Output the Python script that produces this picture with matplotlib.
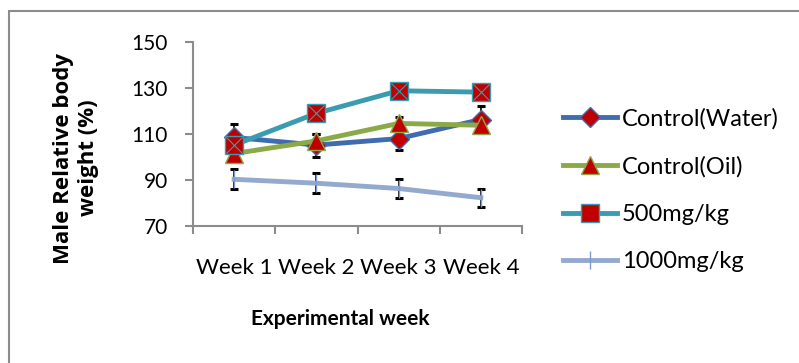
import matplotlib
matplotlib.use("Agg")
import matplotlib.pyplot as plt
from matplotlib.patches import Rectangle
import numpy as np

weeks = ["Week 1", "Week 2", "Week 3", "Week 4"]
water = [108.5, 105.2, 108.0, 116.3]
water_err = [6, 5, 5, 6]
oil = [101.5, 107.0, 114.6, 113.8]
oil_err = [3, 3, 3, 3]
mg500 = [105.2, 119.0, 128.8, 128.2]
mg500_err = [3, 3, 3, 3]
mg1000 = [90.3, 88.6, 86.3, 82.3]
mg1000_err = [4.4, 4.4, 4.2, 4.0]
labels = ["Control(Water)", "Control(Oil)", "500mg/kg", "1000mg/kg"]

FONT = "Lato"
plt.rcParams["font.family"] = [FONT, "DejaVu Sans"]

fig = plt.figure(figsize=(7.99, 3.63), dpi=100)
fig.patches.append(Rectangle((9/799, -0.1), 1.2, 1 - 11/363 + 0.1, transform=fig.transFigure,
                             fill=False, edgecolor="#8c8c8c", linewidth=1.5))
ax = fig.add_axes([193/799, 1-226/363, (522-193)/799, (226-42)/363])
x = np.arange(len(weeks))

red = "#C00000"
series = [
    (water, water_err, "#3F6CAF", "D", 10, "#3F6CAF"),
    (oil, oil_err, "#8AAA4A", "^", 13, "#8AAA4A"),
    (mg500, mg500_err, "#3B9BB0", "s", 13, "#3B9BB0"),
    (mg1000, mg1000_err, "#93A9CF", "|", 13, "#7F9ACD"),
]
handles = []
for (vals, err, col, mk, ms, ec), lab in zip(series, labels):
    ax.errorbar(x, vals, yerr=err, fmt="none", ecolor="black", elinewidth=1.2,
                capsize=3, capthick=2.2, zorder=2)
for (vals, err, col, mk, ms, ec), lab in zip(series, labels):
    fc = col if mk == "|" else red
    h, = ax.plot(x, vals, color=col, linewidth=3.5, marker=mk, markersize=ms,
                 markerfacecolor=fc, markeredgecolor=ec, markeredgewidth=1, label=lab, zorder=3)
    if mk == "s":
        ax.plot(x, vals, linestyle="none", marker="x", markersize=ms-2, color=col,
                markeredgewidth=0.8, zorder=4)
    handles.append(h)

ax.set_xlim(-0.5, 3.5)
ax.set_ylim(70, 150)
ax.set_yticks([70, 90, 110, 130, 150])
ax.set_xticks(x)
ax.set_xticklabels(weeks)
ax.set_xticks([-0.5, 0.5, 1.5, 2.5, 3.5], minor=True)
ax.tick_params(axis="x", which="major", length=0, pad=23, labelsize=16)
ax.tick_params(axis="x", which="minor", length=5.5, color="#8c8c8c", width=1.5)
ax.tick_params(axis="y", length=6, color="#8c8c8c", width=1.5, labelsize=15, pad=12)
for s in ["top", "right"]:
    ax.spines[s].set_visible(False)
for s in ["left", "bottom"]:
    ax.spines[s].set_color("#8c8c8c")
    ax.spines[s].set_linewidth(1.5)

fig.text(76/799, 1-158/363, "Male Relative body\nweight (%)", rotation=90, ha="center", va="center",
         fontsize=16, fontweight="bold", family=["Open Sans", "DejaVu Sans"], linespacing=1.3,
         multialignment="center")
fig.text(340/799, 1-319/363, "Experimental week", ha="center", va="center",
         fontsize=15, fontweight="bold")

leg = fig.legend(handles=handles, labels=labels, loc="upper left",
                 bbox_to_anchor=(563/799, 1-108/363), frameon=False, fontsize=17,
                 handlelength=2.3, handletextpad=0.2, labelspacing=1.12,
                 borderaxespad=0, borderpad=0)

fig.savefig("out.png", dpi=100)
